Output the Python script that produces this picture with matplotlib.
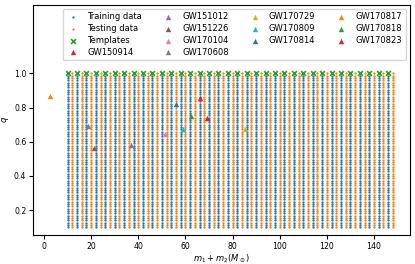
import matplotlib
matplotlib.use("Agg")
import matplotlib.pyplot as plt

# grid of total mass / mass ratio used for training and testing
train_mtotal = [10, 14, 18, 22, 26, 30, 34, 38, 42, 46, 50, 54, 58, 62, 66, 70, 74, 78,
                82, 86, 90, 94, 98, 102, 106, 110, 114, 118, 122, 126, 130, 134, 138, 142, 146]
test_mtotal = [12, 16, 20, 24, 28, 32, 36, 40, 44, 48, 52, 56, 60, 64, 68, 72, 76, 80,
               84, 88, 92, 96, 100, 104, 108, 112, 116, 120, 124, 128, 132, 136, 140, 144, 148]
q_grid = [0.100, 0.114, 0.127, 0.141, 0.155, 0.168, 0.182, 0.195, 0.209, 0.223, 0.236,
          0.250, 0.264, 0.277, 0.291, 0.305, 0.318, 0.332, 0.345, 0.359, 0.373, 0.386,
          0.400, 0.414, 0.427, 0.441, 0.455, 0.468, 0.482, 0.495, 0.509, 0.523, 0.536,
          0.550, 0.564, 0.577, 0.591, 0.605, 0.618, 0.632, 0.645, 0.659, 0.673, 0.686,
          0.700, 0.714, 0.727, 0.741, 0.755, 0.768, 0.782, 0.795, 0.809, 0.823, 0.836,
          0.850, 0.864, 0.877, 0.891, 0.905, 0.918, 0.932, 0.945, 0.959, 0.973, 0.986, 1.000]
template_mtotal = train_mtotal
template_q = [1.0] * len(train_mtotal)

# detected events
events = ["GW150914", "GW151012", "GW151226", "GW170104", "GW170608", "GW170729", "GW170809",
          "GW170814", "GW170817", "GW170818", "GW170823"]
event_mtotal = [66.2, 37.0, 21.3, 51.2, 18.5, 85.1, 59.0, 56.2, 2.7, 62.3, 69.0]
event_q = [0.858, 0.584, 0.561, 0.648, 0.695, 0.677, 0.677, 0.821, 0.868, 0.751, 0.742]

plt.rcParams.update({
    "font.family": "DejaVu Sans",
    "font.size": 6,
    "axes.linewidth": 0.8,
})

fig = plt.figure(figsize=(4.15, 2.64), dpi=100)
ax = fig.add_axes([0.08, 0.11, 0.908, 0.871])

tx = [m for m in train_mtotal for q in q_grid]
ty = [q for m in train_mtotal for q in q_grid]
vx = [m for m in test_mtotal for q in q_grid]
vy = [q for m in test_mtotal for q in q_grid]

ax.scatter(tx, ty, s=2.8, color="C0", marker="o", linewidths=0, label="Training data")
ax.scatter(vx, vy, s=2.8, color="C1", marker="o", linewidths=0, label="Testing data")
ax.scatter(template_mtotal, template_q, s=12, color="C2", marker="x", linewidths=1.2,
           label="Templates")
for i, name in enumerate(events):
    ax.scatter(event_mtotal[i], event_q[i], s=15, color="C%d" % ((i + 3) % 10), marker="^",
               linewidths=0, label=name, zorder=3)

ax.set_ylim(top=1.4)
ax.set_xticks([0, 20, 40, 60, 80, 100, 120, 140])
ax.set_yticks([0.2, 0.4, 0.6, 0.8, 1.0])
ax.set_xlabel(r"$m_1 + m_2 (M_\odot)$", labelpad=1)
ax.set_ylabel(r"$q$")
ax.yaxis.set_label_coords(-0.06, 0.5)
ax.tick_params(length=3, width=0.8, pad=2, labelsize=5.6)

ax.legend(loc="upper right", ncol=4, fontsize=6, handletextpad=0.9, handlelength=1.6,
          columnspacing=2.3, labelspacing=0.33, borderpad=0.45, scatterpoints=1,
          borderaxespad=0.3, bbox_to_anchor=(0.995, 0.995))

fig.savefig("out.png", dpi=100)
